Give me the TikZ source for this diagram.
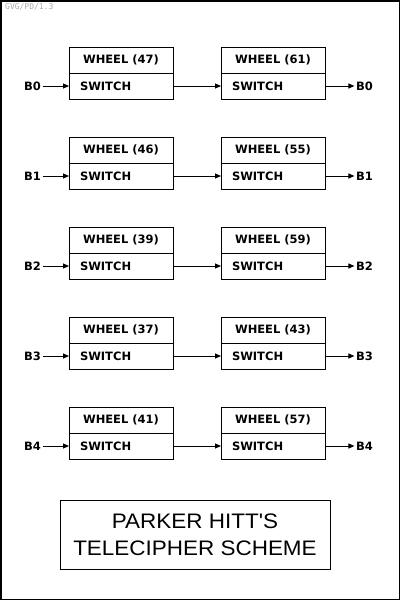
\documentclass[tikz,border=0pt]{standalone}
\usepackage{fontspec}
\usepackage{graphicx}
\setmainfont{DejaVu Sans}
\newfontfamily\titlefont{Liberation Sans}
\newfontfamily\tagfont{DejaVu Sans Mono}
\usetikzlibrary{arrows.meta}
\definecolor{taggray}{HTML}{AAAAAA}
\tikzset{
  boxfont/.style={font=\fontsize{11.5}{13}\selectfont\bfseries},
  wheelbox/.style={draw, line width=1pt, outer sep=0pt, minimum width=104pt, minimum height=26pt, inner sep=0pt, boxfont},
  switchbox/.style={draw, line width=1pt, outer sep=0pt, minimum width=104pt, minimum height=26pt, inner xsep=11pt, inner ysep=0pt, text width=82pt, align=left, boxfont},
  blabel/.style={inner sep=1.5pt, boxfont},
  conn/.style={-{Triangle[length=6pt,width=5pt]}, line width=1pt},
  titlebox/.style={draw, line width=1pt, minimum width=270pt, minimum height=69pt, inner sep=0pt, align=center, font=\titlefont\fontsize{21}{27}\selectfont}
}
\begin{document}
\begin{tikzpicture}[x=1pt,y=-1pt]
\useasboundingbox (0,0) rectangle (400,600);
\draw[line width=1.5pt] (0.75,0.75) rectangle (399.25,599.25);
\node[font=\tagfont\fontsize{8}{9}\selectfont, text=taggray, inner sep=0pt, anchor=west] (tag) at (5,7) {GVG/PD/1.3};
\foreach \i/\a/\b in {0/47/61,1/46/55,2/39/59,3/37/43,4/41/57}{
  \node[wheelbox] (wa\i) at (121,{60+90*\i}) {WHEEL (\a)};
  \node[switchbox, anchor=north] (sa\i) at (wa\i.south) {SWITCH};
  \node[wheelbox] (wb\i) at (273,{60+90*\i}) {WHEEL (\b)};
  \node[switchbox, anchor=north] (sb\i) at (wb\i.south) {SWITCH};
  \node[blabel] (in\i) at (32.5,{86+90*\i}) {B\i};
  \node[blabel] (out\i) at (364.5,{86+90*\i}) {B\i};
  \draw[conn] (in\i.east) -- (sa\i.west);
  \draw[conn] (sa\i.east) -- (sb\i.west);
  \draw[conn] (sb\i.east) -- (out\i.west);
}
\node[titlebox] (title) at (195,534.5) {\scalebox{1.07}[1]{PARKER HITT\textquotesingle S}\\\scalebox{1.07}[1]{TELECIPHER SCHEME}};
\end{tikzpicture}
\end{document}
